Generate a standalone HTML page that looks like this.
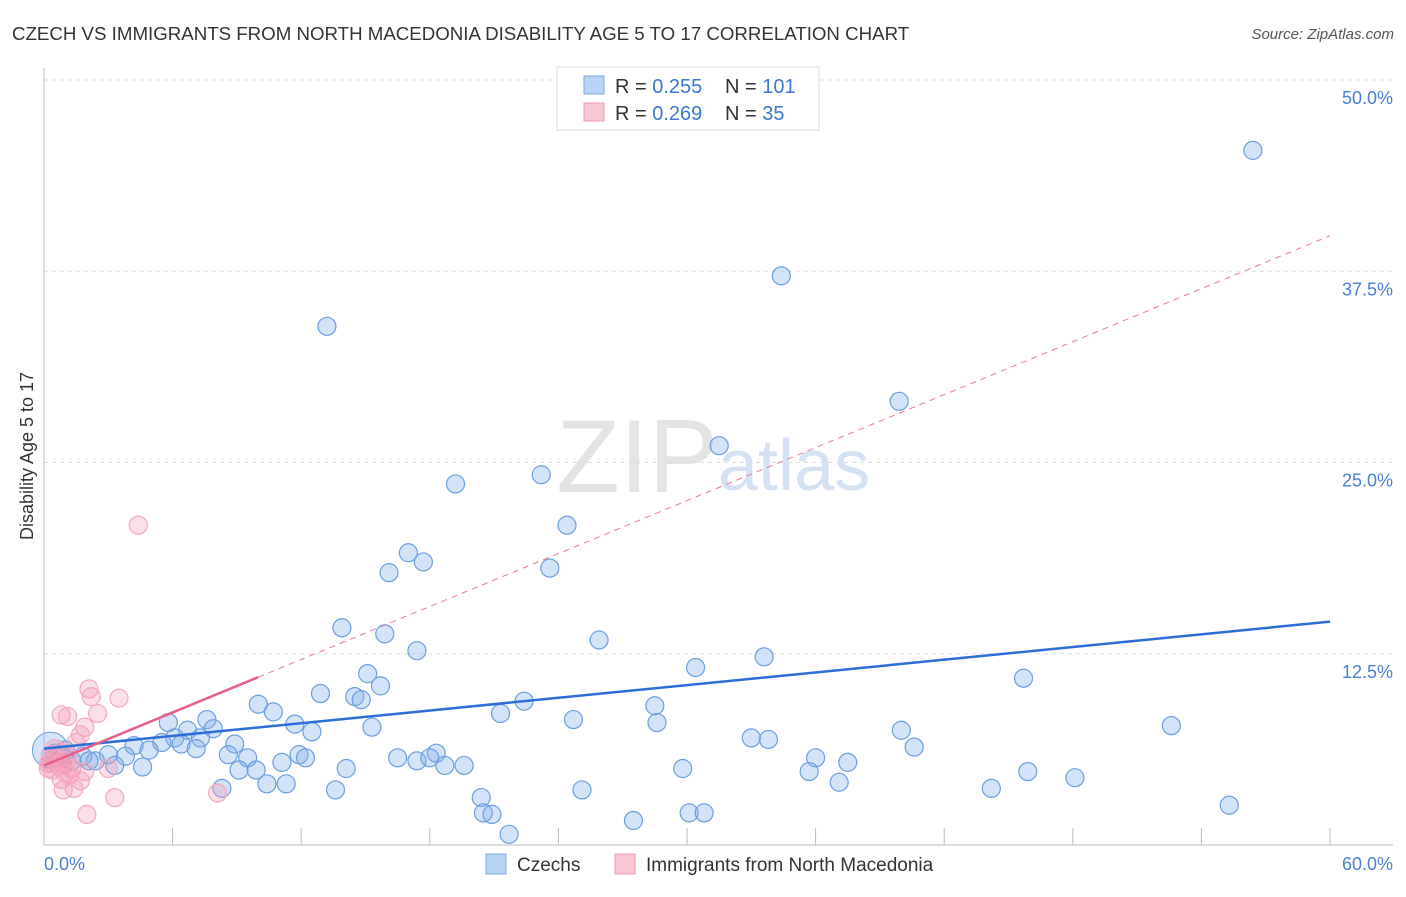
<!DOCTYPE html>
<html><head><meta charset="utf-8"><style>
body{margin:0;background:#fff;font-family:"Liberation Sans",sans-serif;}
svg text{font-family:"Liberation Sans",sans-serif;}
</style></head><body>
<svg id="chart" width="1406" height="892" viewBox="0 0 1406 892" xmlns="http://www.w3.org/2000/svg">
<text x="12" y="40" font-size="18.7" fill="#333">CZECH VS IMMIGRANTS FROM NORTH MACEDONIA DISABILITY AGE 5 TO 17 CORRELATION CHART</text>
<text x="1394" y="39" font-size="15" fill="#555" text-anchor="end" font-style="italic">Source: ZipAtlas.com</text>
<text x="718" y="492" font-size="104" fill="#e4e4e4" text-anchor="end" font-family="Liberation Serif">ZIP</text>
<text x="718" y="490" font-size="72" fill="#d4e2f4">atlas</text>
<text transform="translate(33,456) rotate(-90)" font-size="18" fill="#333" text-anchor="middle">Disability Age 5 to 17</text>
<g id="grid"></g><g id="axes"></g><g id="pts"></g><g id="trends"></g>
<g>
<rect x="557" y="67" width="262" height="63" fill="#fff" stroke="#ddd"/>
<rect x="584" y="76" width="20" height="18" fill="#b7d3f5" stroke="#7aa8e0"/>
<text x="615" y="93" font-size="20" fill="#333">R = <tspan fill="#3b78d0">0.255</tspan></text>
<text x="725" y="93" font-size="20" fill="#333">N = <tspan fill="#3b78d0">101</tspan></text>
<rect x="584" y="103" width="20" height="18" fill="#f9c6d4" stroke="#ee9ab3"/>
<text x="615" y="120" font-size="20" fill="#333">R = <tspan fill="#3b78d0">0.269</tspan></text>
<text x="725" y="120" font-size="20" fill="#333">N =  <tspan fill="#3b78d0"> 35</tspan></text>
</g>
<g>
<rect x="486" y="854" width="20" height="20" fill="#b7d3f5" stroke="#7aa8e0"/>
<text x="517" y="871" font-size="19" fill="#333">Czechs</text>
<rect x="615" y="854" width="20" height="20" fill="#f9c6d4" stroke="#ee9ab3"/>
<text x="646" y="871" font-size="19" fill="#333">Immigrants from North Macedonia</text>
</g>
</svg>
<script>
const yTicks=[12.5,25,37.5,50];
const yTickLabels=["12.5%","25.0%","37.5%","50.0%"];
const xTickVals=[6,12,18,24,30,36,42,48,54,60];
const xLabels=["0.0%","60.0%"];
const czX=[56.4,34.4,13.2,39.9,31.5,23.2,19.2,24.4,17.0,17.7,23.6,16.1,13.9,15.9,25.9,17.4,33.6,30.4,15.1,45.7,15.7,12.9,14.5,14.8,22.4,10.0,28.5,10.7,21.3,24.7,7.6,5.8,28.6,11.7,52.6,15.3,40.0,7.9,6.7,12.5,6.1,33.0,33.8,7.3,5.5,6.4,8.9,4.2,40.6,7.1,4.9,8.6,11.9,18.3,3.8,3.0,9.5,16.5,17.4,18.0,12.2,36.0,2.4,37.5,11.1,18.7,19.6,3.3,4.6,9.1,14.1,9.9,29.8,35.7,45.9,48.1,37.1,10.4,11.3,8.3,13.6,25.1,44.2,20.4,55.3,20.5,20.9,30.1,30.8,27.5,21.7,0.6,0.9,1.3,1.8,2.1,0.5,1.0];
const czY=[45.4,37.2,33.9,29.0,26.1,24.2,23.6,20.9,19.1,18.5,18.1,17.8,14.2,13.8,13.4,12.7,12.3,11.6,11.2,10.9,10.4,9.9,9.7,9.5,9.4,9.2,9.1,8.7,8.6,8.2,8.2,8.0,8.0,7.9,7.8,7.7,7.5,7.6,7.5,7.4,7.0,7.0,6.9,7.0,6.7,6.6,6.6,6.5,6.4,6.3,6.2,5.9,5.9,6.0,5.8,5.9,5.7,5.7,5.5,5.7,5.7,5.7,5.5,5.4,5.4,5.2,5.2,5.2,5.1,4.9,5.0,4.9,5.0,4.8,4.8,4.4,4.1,4.0,4.0,3.7,3.6,3.6,3.7,3.1,2.6,2.1,2.0,2.1,2.1,1.6,0.7,5.7,5.7,5.5,5.8,5.5,6.0,6.2];
const mkX=[4.4,2.1,2.2,3.5,0.8,1.1,2.5,1.9,1.7,1.5,0.5,0.8,0.5,0.3,0.7,1.0,1.3,0.2,1.9,1.2,0.8,3.0,1.7,0.9,1.4,3.3,8.1,2.0,1.0,0.4,0.3,0.6,1.1,0.2,0.9];
const mkY=[20.9,10.2,9.7,9.6,8.5,8.4,8.6,7.7,7.2,6.7,6.3,6.1,5.7,5.4,5.2,5.3,5.0,5.0,4.8,4.6,4.3,5.0,4.2,3.6,3.7,3.1,3.4,2.0,4.7,4.9,5.9,5.6,5.8,5.3,5.5];
const czTrend=[6.3,14.6];
const mkTrend=[5.2,0.577];
const NS="http://www.w3.org/2000/svg";
const X=v=>44+v*(1330-44)/60, Y=v=>845-v*(845-80)/50;
function el(t,a,p){const e=document.createElementNS(NS,t);for(const k in a)e.setAttribute(k,a[k]);document.getElementById(p).appendChild(e);return e;}
yTicks.forEach((t,i)=>{
 const g=el('line',{x1:44,x2:1393,y1:Y(t),y2:Y(t),stroke:'#ddd','stroke-dasharray':'4,4'},'grid');
 
 
 const tx=el('text',{x:1393,y:Y(t)+24,'font-size':18,fill:'#4a7fd0','text-anchor':'end'},'grid');tx.textContent=yTickLabels[i];
 
 
});
let a=el('line',{x1:44,x2:44,y1:68,y2:845,stroke:'#bbb'},'axes');


a=el('line',{x1:44,x2:1393,y1:845,y2:845,stroke:'#bbb'},'axes');


xTickVals.forEach(v=>{const t=el('line',{x1:X(v),x2:X(v),y1:828,y2:845,stroke:'#bbb'},'axes');
 
 });
let l=el('text',{x:44,y:870,'font-size':18,fill:'#4a7fd0'},'axes');l.textContent=xLabels[0];


l=el('text',{x:1393,y:870,'font-size':18,fill:'#4a7fd0','text-anchor':'end'},'axes');l.textContent=xLabels[1];


el('circle',{cx:X(0.3),cy:Y(6.2),r:18,fill:'rgba(130,175,235,0.35)',stroke:'#6a9fe0'},'pts');
czX.forEach((x,i)=>{const c=el('circle',{cx:X(x),cy:Y(czY[i]),r:9,fill:'rgba(130,175,235,0.35)',stroke:'#6a9fe0','stroke-width':1.2},'pts');
 
 });
mkX.forEach((x,i)=>{const c=el('circle',{cx:X(x),cy:Y(mkY[i]),r:9,fill:'rgba(242,150,180,0.3)',stroke:'#f2a8be','stroke-width':1.2},'pts');
 
 });
let t=el('line',{x1:X(0),y1:Y(czTrend[0]),x2:X(60),y2:Y(czTrend[1]),stroke:'#2a6fd6','stroke-width':2.5},'trends');


t=el('line',{x1:X(10),y1:Y(mkTrend[0]+mkTrend[1]*10),x2:X(60),y2:Y(mkTrend[0]+mkTrend[1]*60),stroke:'#e8789a','stroke-width':1,'stroke-dasharray':'6,5'},'trends');


t=el('line',{x1:X(0),y1:Y(mkTrend[0]),x2:X(10),y2:Y(mkTrend[0]+mkTrend[1]*10),stroke:'#e8608a','stroke-width':2.5},'trends');


</script>
</body></html>
